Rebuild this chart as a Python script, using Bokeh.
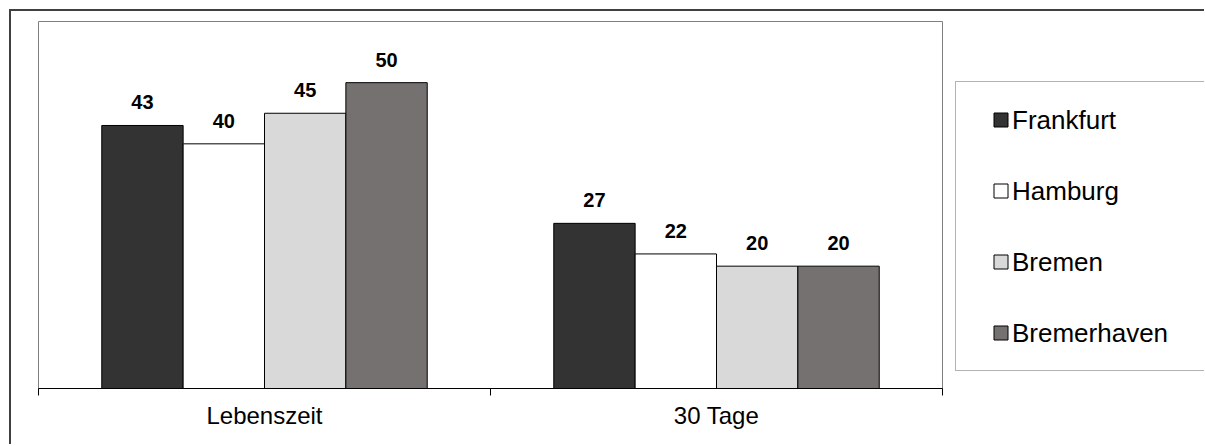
from bokeh.plotting import figure
from bokeh.layouts import row
from bokeh.models import ColumnDataSource, Range1d, FixedTicker, Legend, LegendItem
from bokeh.core.properties import value
from bokeh.embed import file_html
from bokeh.resources import INLINE

categories = ["Lebenszeit", "30 Tage"]
cities = ["Frankfurt", "Hamburg", "Bremen", "Bremerhaven"]
frankfurt = [43, 27]
hamburg = [40, 22]
bremen = [45, 20]
bremerhaven = [50, 20]
series = [frankfurt, hamburg, bremen, bremerhaven]
colors = ["#333333", "#ffffff", "#d9d9d9", "#767171"]
offsets = [-0.27, -0.09, 0.09, 0.27]
bar_w = 0.18

FONT = "Liberation Sans"

p = figure(width=932, height=433, output_backend="svg", toolbar_location=None,
           x_range=Range1d(0, len(categories)), y_range=Range1d(0, 60),
           y_axis_location=None, min_border_left=27, min_border_top=10,
           min_border_bottom=56, min_border_right=1)
p.grid.visible = False
p.outline_line_color = "#808080"
p.outline_line_width = 1

# legend-only figure to the right of the chart
q = figure(width=261, height=433, output_backend="svg", toolbar_location=None,
           x_range=Range1d(0, 1), y_range=Range1d(0, 1),
           x_axis_location=None, y_axis_location=None,
           min_border_left=0, min_border_right=0, min_border_top=0, min_border_bottom=0)
q.grid.visible = False
q.outline_line_color = None

items_glyph = []
items_text = []
for name, vals, col, off in zip(cities, series, colors, offsets):
    xs = [i + 0.5 + off for i in range(len(categories))]
    src = ColumnDataSource(dict(x=xs, top=vals, lab=[str(v) for v in vals]))
    p.vbar(x="x", top="top", width=bar_w, source=src, fill_color=col,
           line_color="#000000", line_width=1)
    p.text(x="x", y="top", text="lab", source=src, text_align="center",
           text_baseline="alphabetic", y_offset=-23, text_font=value(FONT),
           text_font_style="bold", text_font_size="20px", text_color="#000000")
    g = q.scatter(x="x", y="top", source=src, marker="square", size=14,
                  fill_color=col, line_color="#000000", line_width=1)
    g.visible = False
    t = q.scatter(x="x", y="top", source=src, marker="square", size=1,
                  fill_alpha=0, line_alpha=0)
    t.visible = False
    items_glyph.append(LegendItem(label=" ", renderers=[g]))
    items_text.append(LegendItem(label=name, renderers=[t]))

ax = p.xaxis[0]
ax.ticker = FixedTicker(ticks=[i + 0.5 for i in range(len(categories))],
                        minor_ticks=list(range(len(categories) + 1)))
ax.major_label_overrides = {i + 0.5: c for i, c in enumerate(categories)}
ax.major_tick_line_color = None
ax.major_tick_out = 0
ax.major_tick_in = 0
ax.minor_tick_line_color = "#000000"
ax.minor_tick_out = 7
ax.minor_tick_in = 0
ax.axis_line_color = "#000000"
ax.axis_line_width = 1
ax.major_label_text_font = FONT
ax.major_label_text_font_size = "24px"
ax.major_label_text_color = "#000000"
ax.major_label_standoff = 6

common = dict(location=(12, 17), margin=0, padding=20, glyph_height=35,
              label_height=35, spacing=36, label_standoff=0,
              label_text_font=FONT, label_text_font_size="26px",
              label_text_baseline="middle")

legend_box = Legend(items=items_glyph, glyph_width=49, label_width=220,
                    border_line_color="#666666", border_line_width=1,
                    background_fill_color="#ffffff", background_fill_alpha=1.0,
                    **common)
legend_txt = Legend(items=items_text, glyph_width=37, label_text_color="#000000",
                    border_line_alpha=0, background_fill_alpha=0, **common)
q.add_layout(legend_box, "center")
q.add_layout(legend_txt, "center")

layout = row(p, q, spacing=0)
layout.styles = {"margin-left": "9px", "margin-top": "9px", "overflow": "hidden",
                 "border-left": "2px solid #404040", "border-top": "2px solid #404040"}

open("out.html", "w").write(file_html(layout, INLINE))
